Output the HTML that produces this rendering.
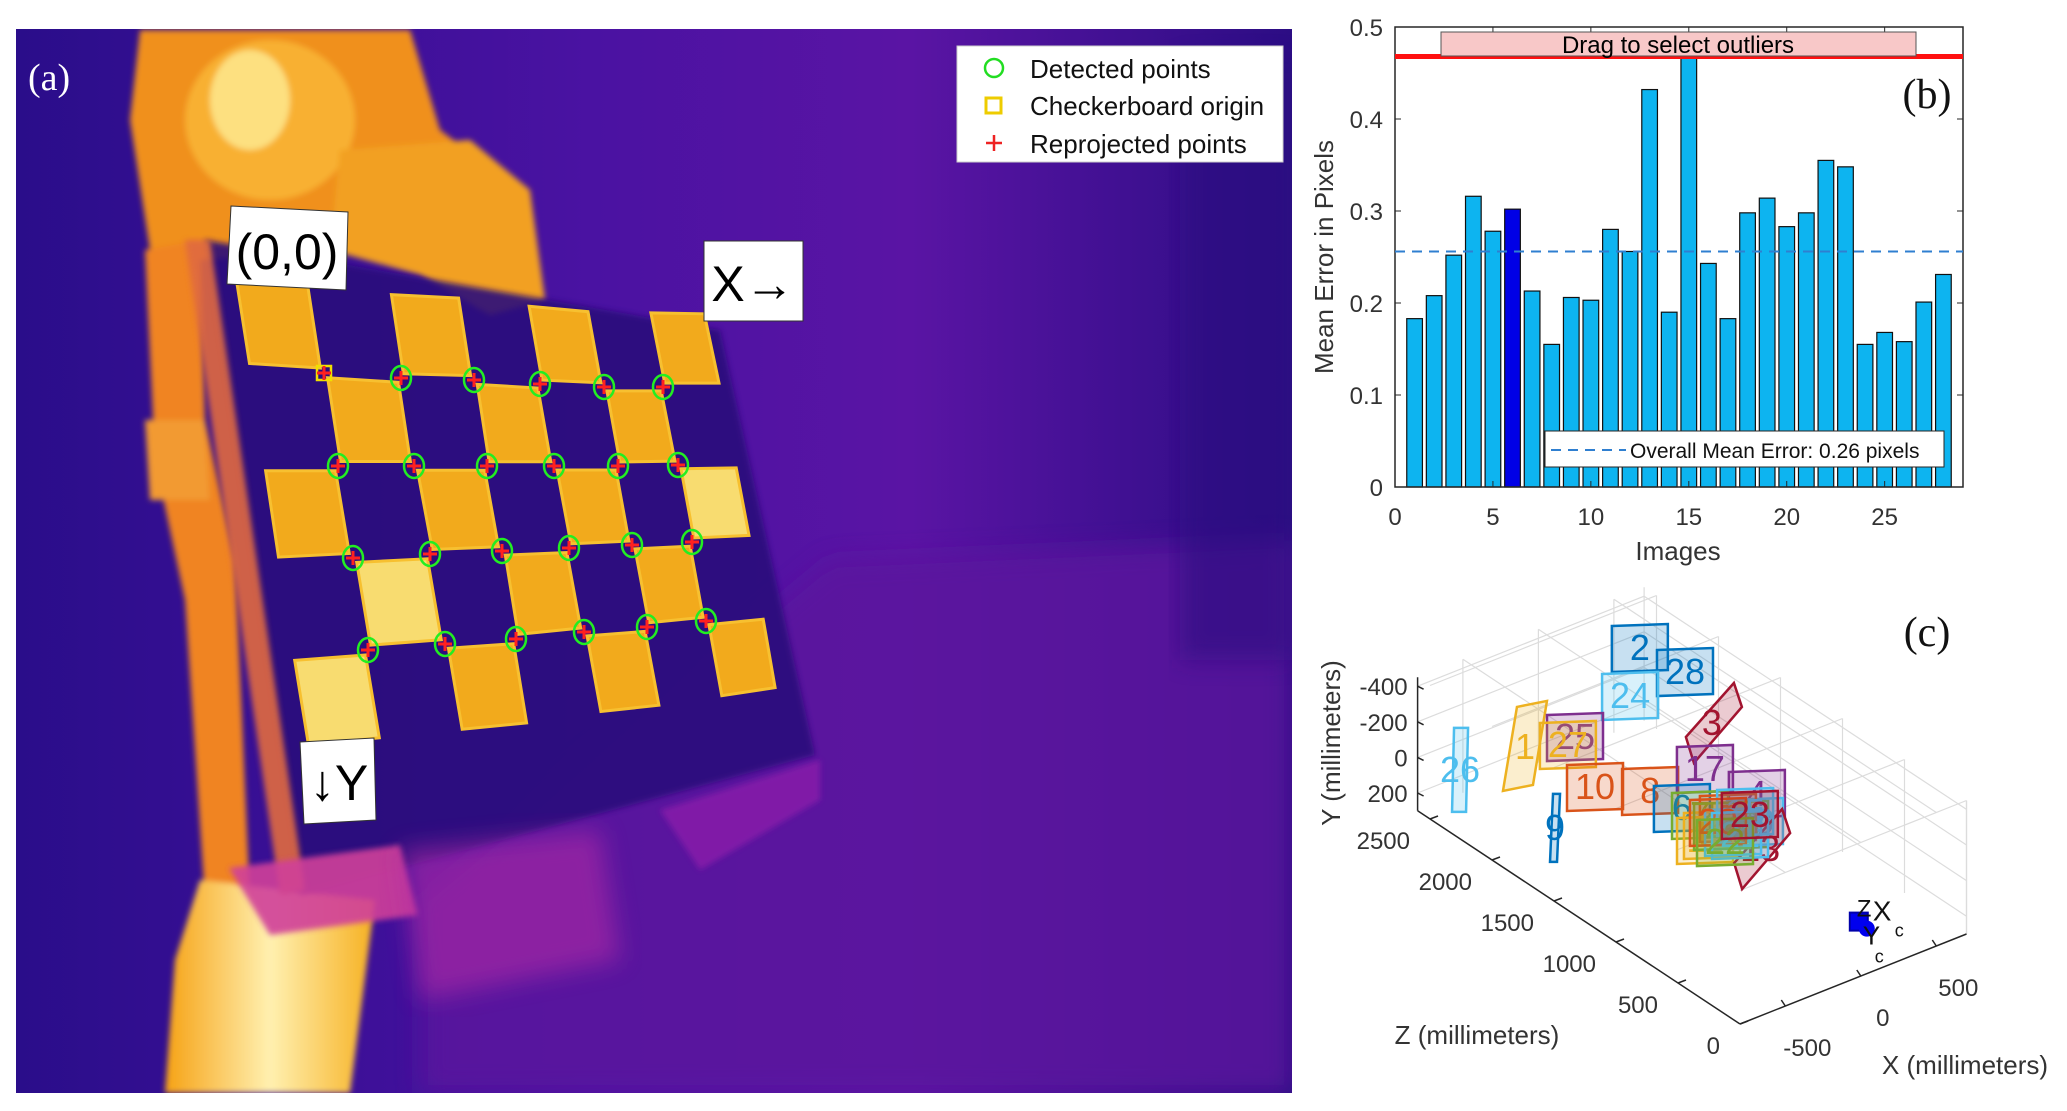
<!DOCTYPE html>
<html><head><meta charset="utf-8">
<style>
html,body{margin:0;padding:0;background:#fff;}
body{width:2067px;height:1111px;position:relative;overflow:hidden;font-family:"Liberation Sans",sans-serif;}
svg{position:absolute;left:0;top:0;}
</style></head>
<body>
<svg id="fig" width="2067" height="1111" viewBox="0 0 2067 1111" xmlns="http://www.w3.org/2000/svg">
<defs>
<linearGradient id="bgGrad" x1="0" y1="0" x2="1" y2="0">
<stop offset="0" stop-color="#2a0d8a"/><stop offset="0.45" stop-color="#4a12a2"/><stop offset="0.7" stop-color="#5a14a4"/><stop offset="1" stop-color="#2c0d84"/>
</linearGradient>
<linearGradient id="legGrad" x1="0" y1="0" x2="1" y2="0">
<stop offset="0" stop-color="#f6a214"/><stop offset="0.5" stop-color="#fff0b0"/><stop offset="1" stop-color="#f6b020"/>
</linearGradient>
<filter id="soft"><feGaussianBlur stdDeviation="3"/></filter>
<filter id="soft2"><feGaussianBlur stdDeviation="12"/></filter>
<clipPath id="photoClip"><rect x="16" y="29" width="1276" height="1064"/></clipPath>
</defs>

<g id="panelA" clip-path="url(#photoClip)">
<rect x="16" y="29" width="1276" height="1064" fill="url(#bgGrad)"/>
<polygon points="830,560 1292,540 1292,1093 420,1093 420,900" fill="#5c169e" opacity="0.8" filter="url(#soft2)"/>
<rect x="1180" y="60" width="112" height="600" fill="#2c0c80" opacity="0.6" filter="url(#soft2)"/>
<g filter="url(#soft)">
<polygon points="140,30 410,30 440,130 480,160 530,200 540,300 480,310 420,270 350,250 200,260 150,250 130,120" fill="#f0901c"/>
<ellipse cx="270" cy="120" rx="85" ry="80" fill="#f8b030"/>
<ellipse cx="250" cy="100" rx="40" ry="50" fill="#fde080"/>
<polygon points="340,150 470,140 530,190 545,300 490,315 420,275 330,250" fill="#f2a020"/>
<polygon points="145,250 200,240 205,420 235,560 250,900 205,900 185,600 155,460" fill="#f08420"/>
<polygon points="145,420 205,420 210,500 150,500" fill="#f29a30"/>
<polygon points="200,880 375,900 350,1093 165,1093 175,960" fill="url(#legGrad)"/>
</g>
<polygon points="205,240 720,330 815,755 300,895" fill="#2a0e7c" opacity="0.9" filter="url(#soft)"/>
<polygon points="185,240 210,240 305,890 280,895" fill="#e06a40" opacity="0.9" filter="url(#soft)"/>
<polygon points="229,868 400,845 418,915 270,935" fill="#d0409a" opacity="0.9" filter="url(#soft)"/>
<polygon points="400,850 600,830 620,960 420,1000" fill="#b02aa6" opacity="0.6" filter="url(#soft2)"/>
<polygon points="660,810 820,760 820,800 700,870" fill="#8a1eaa" opacity="0.8" filter="url(#soft)"/>
<g id="squares"></g>
<g id="marks"></g>
</g>
<text x="28" y="90" font-family="'Liberation Serif',serif" font-size="38" fill="#fff">(a)</text>

<g>
<polygon points="231,206 348,212 346,290 227,284" fill="#fff" stroke="#333" stroke-width="1"/>
<text x="287" y="269" font-size="50" text-anchor="middle" fill="#000">(0,0)</text>
</g>
<g>
<rect x="704" y="241" width="99" height="80" fill="#fff" stroke="#333" stroke-width="1"/>
<text x="753" y="301" font-size="50" text-anchor="middle" fill="#000">X→</text>
</g>
<g>
<polygon points="300,742 374,738 376,820 304,824" fill="#fff" stroke="#333" stroke-width="1"/>
<text x="339" y="800" font-size="50" text-anchor="middle" fill="#000">↓Y</text>
</g>

<g>
<rect x="957" y="46" width="326" height="116" fill="#fff" stroke="#ccc" stroke-width="1"/>
<circle cx="994" cy="68" r="9" fill="none" stroke="#22dd22" stroke-width="2.5"/>
<text x="1030" y="78" font-size="26" fill="#111">Detected points</text>
<rect x="986" y="98" width="15" height="15" fill="none" stroke="#eecc00" stroke-width="3"/>
<text x="1030" y="115" font-size="26" fill="#111">Checkerboard origin</text>
<path d="M986 143 h16 M994 135 v16" stroke="#ee2222" stroke-width="2.5"/>
<text x="1030" y="153" font-size="26" fill="#111">Reprojected points</text>
</g>

<g id="panelB">
<rect x="1395" y="27" width="568" height="460" fill="#fff"/>
<g id="bars"></g>
<g id="bticks"></g>
<rect x="1395" y="27" width="568" height="460" fill="none" stroke="#262626" stroke-width="1.5"/>
<line id="outlierLine" x1="1395" x2="1963" stroke="#ff1010" stroke-width="5"/>
<g>
<rect x="1441" y="32" width="475" height="24" fill="#f8c8c8" stroke="#555" stroke-width="1"/>
<text x="1678" y="53" font-size="24" text-anchor="middle" fill="#000">Drag to select outliers</text>
</g>
<line id="meanLine" x1="1395" x2="1963" stroke="#2f7fd0" stroke-width="2" stroke-dasharray="10,7"/>
<g>
<rect x="1545" y="431" width="399" height="36" fill="#fff" stroke="#262626" stroke-width="1"/>
<line x1="1551" x2="1626" y1="450" y2="450" stroke="#2f7fd0" stroke-width="2" stroke-dasharray="10,7"/>
<text x="1630" y="458" font-size="21" fill="#111">Overall Mean Error: 0.26 pixels</text>
</g>
<text x="1927" y="108" font-family="'Liberation Serif',serif" font-size="42" text-anchor="middle" fill="#111">(b)</text>
<text x="1678" y="560" font-size="26" text-anchor="middle" fill="#333">Images</text>
<text transform="translate(1333,257) rotate(-90)" font-size="26" text-anchor="middle" fill="#333">Mean Error in Pixels</text>
</g>

<g id="panelC">
<g id="grid3d"></g>
<g id="axes3d"></g>
<g id="planes"></g>
<g id="camera"></g>
<text x="1927" y="646" font-family="'Liberation Serif',serif" font-size="42" text-anchor="middle" fill="#111">(c)</text>
<text transform="translate(1340,743) rotate(-90)" font-size="26" text-anchor="middle" fill="#333">Y (millimeters)</text>
<text x="1477" y="1044" font-size="26" text-anchor="middle" fill="#333">Z (millimeters)</text>
<text x="1965" y="1074" font-size="26" text-anchor="middle" fill="#333">X (millimeters)</text>
</g>
</svg>

<script>
// ---------- Panel (b) data ----------
const imageIdx = [1,2,3,4,5,6,7,8,9,10,11,12,13,14,15,16,17,18,19,20,21,22,23,24,25,26,27,28];
const meanErrors = [0.183,0.208,0.252,0.316,0.278,0.302,0.213,0.155,0.206,0.203,0.280,0.256,0.432,0.190,0.468,0.243,0.183,0.298,0.314,0.283,0.298,0.355,0.348,0.155,0.168,0.158,0.201,0.231];
const selectedImage = 6;
const overallMean = 0.256;
const outlierThreshold = 0.468;
const xTickVals = [0,5,10,15,20,25];
const yTickVals = [0,0.1,0.2,0.3,0.4,0.5];
const yTickLabels = ["0","0.1","0.2","0.3","0.4","0.5"];

// ---------- Panel (a) data: detected corner points ----------
const cornerRowsX = [[324,401,474,540,604,663],[338,414,487,554,618,678],[353,430,502,569,632,692],[368,445,516,584,647,706]];
const cornerRowsY = [[373,378,380,384,387,387],[466,466,466,466,466,465],[558,554,551,548,545,542],[650,644,639,632,627,621]];

// ---------- Panel (c) data ----------
const planeLabels = ["2","28","24","3","1","25","27","26","10","8","17","4","9","6","7","12","18","19","5","11","13","14","15","16","20","21","22","23"];
const planeX = [414,506,185,410,-346,-77,-134,-647,-140,63,372,486,-450,144,231,155,334,414,327,95,322,253,436,261,261,271,165,437];
const planeY = [-350,-300,-250,-200,-50,-50,-30,50,100,100,50,100,200,150,200,200,200,200,200,200,250,200,200,200,200,200,200,200];
const planeZ = [2286,2034,2086,1700,2287,2211,2199,2444,1973,1776,1710,1430,1918,1618,1578,1389,1380,1358,1470,1372,1204,1427,1464,1348,1470,1304,1296,1427];
const xTicks3 = [-500,0,500];
const yTicks3 = [-400,-200,0,200];
const zTicks3 = [0,500,1000,1500,2000,2500];

const NS = "http://www.w3.org/2000/svg";
function mk(tag, attrs, parent){const e=document.createElementNS(NS,tag);for(const k in attrs)e.setAttribute(k,attrs[k]);parent.appendChild(e);return e;}

// ===== Panel (b) =====
const bx0=1395,bx1=1963,by0=487,by1=27,xmax=29,ymax=0.5;
const xs=v=>bx0+(v/xmax)*(bx1-bx0);
const ys=v=>by0-(Math.min(v,ymax)/ymax)*(by0-by1);
const barsG=document.getElementById('bars');
imageIdx.forEach((n,i)=>{
  const v=meanErrors[i];
  const r=mk('rect',{x:xs(n-0.4),y:ys(v),width:xs(0.8)-xs(0),height:by0-ys(v),fill:n===selectedImage?'#0000e6':'#0db4f0',stroke:'#111','stroke-width':1.2},barsG);
  
  
});
const tg=document.getElementById('bticks');
xTickVals.forEach(v=>{
  mk('line',{x1:xs(v),x2:xs(v),y1:by0,y2:by0-6,stroke:'#262626'},tg);
  mk('line',{x1:xs(v),x2:xs(v),y1:by1,y2:by1+6,stroke:'#262626'},tg);
  const t=mk('text',{x:xs(v),y:by0+38,'font-size':24,'text-anchor':'middle',fill:'#333'},tg);
  t.textContent=v;
  
  
});
yTickVals.forEach((v,i)=>{
  mk('line',{x1:bx0,x2:bx0+6,y1:ys(v),y2:ys(v),stroke:'#262626'},tg);
  mk('line',{x1:bx1,x2:bx1-6,y1:ys(v),y2:ys(v),stroke:'#262626'},tg);
  const t=mk('text',{x:bx0-12,y:ys(v)+9,'font-size':24,'text-anchor':'end',fill:'#333'},tg);
  t.textContent=yTickLabels[i];
  
  
});
const ml=document.getElementById('meanLine');ml.setAttribute('y1',ys(overallMean));ml.setAttribute('y2',ys(overallMean));
const ol=document.getElementById('outlierLine');ol.setAttribute('y1',ys(outlierThreshold));ol.setAttribute('y2',ys(outlierThreshold));

// ===== Panel (a) squares & markers =====
function extRow(rx,ry,r){
  if(r>=0&&r<=3) return [rx[r].slice(),ry[r].slice()];
  const a=r<0?0:3, b=r<0?1:2;
  return [rx[a].map((v,i)=>2*v-rx[b][i]), ry[a].map((v,i)=>2*v-ry[b][i])];
}
function cornerGrid(){
  const G=[];
  for(let r=-1;r<=4;r++){
    const [X,Y]=extRow(cornerRowsX,cornerRowsY,r);
    const row=[];
    row.push([2*X[0]-X[1],2*Y[0]-Y[1]]);
    for(let c=0;c<6;c++) row.push([X[c],Y[c]]);
    row.push([2*X[5]-X[4],2*Y[5]-Y[4]]);
    G.push(row);
  }
  return G;
}
const G=cornerGrid();
const sqG=document.getElementById('squares');
for(let r=0;r<5;r++){for(let c=0;c<7;c++){
  if((r+c)%2!==0)continue;
  const p=[G[r][c],G[r][c+1],G[r+1][c+1],G[r+1][c]];
  const cx=(p[0][0]+p[1][0]+p[2][0]+p[3][0])/4, cy=(p[0][1]+p[1][1]+p[2][1]+p[3][1])/4;
  const s=p.map(q=>[(cx+(q[0]-cx)*0.92).toFixed(1),(cy+(q[1]-cy)*0.9).toFixed(1)].join(',')).join(' ');
  const light=(r===3&&c===1)||(r===2&&c===6)||(r===4&&c===0);
  const sq=mk('polygon',{points:s,fill:light?'#f8dc70':'#f2aa1c',stroke:'#f7c030','stroke-width':3},sqG);
  
  
}}
const mG=document.getElementById('marks');
cornerRowsX.forEach((row,r)=>row.forEach((x,c)=>{
  const y=cornerRowsY[r][c];
  if(r===0&&c===0){
    const o=mk('rect',{x:x-7,y:y-7,width:14,height:14,fill:'none',stroke:'#f0e000','stroke-width':2.5},mG);
    
    
  } else {
    const c1=mk('ellipse',{cx:x,cy:y,rx:10,ry:12,fill:'none',stroke:'#22ee22','stroke-width':2.5},mG);
    
    
  }
  const p=mk('path',{d:`M${x-7} ${y} h14 M${x} ${y-7} v14`,stroke:'#ff2020','stroke-width':3},mG);
  
  
}));

// ===== Panel (c) 3D =====
const XMIN=-800,XMAX=700,YMIN=-450,YMAX=300,ZMAX=2600;
const O=[1740,1024];
function P(X,Y,Z){return [O[0]+0.151*(X-XMIN)-0.124*Z, O[1]-0.060*(X-XMIN)-0.082*Z+0.178*(Y-YMAX)];}
const g3=document.getElementById('grid3d');
function ln(a,b,col,w,parent){return mk('line',{x1:a[0],y1:a[1],x2:b[0],y2:b[1],stroke:col,'stroke-width':w},parent);}
const gc='#dcdcdc';
xTicks3.forEach(x=>{ln(P(x,YMIN,ZMAX),P(x,YMAX,ZMAX),gc,1.2,g3);ln(P(x,YMIN,0),P(x,YMIN,ZMAX),gc,1.2,g3);});
zTicks3.forEach(z=>{ln(P(XMAX,YMIN,z),P(XMAX,YMAX,z),gc,1.2,g3);ln(P(XMIN,YMIN,z),P(XMAX,YMIN,z),gc,1.2,g3);});
yTicks3.forEach(y=>{ln(P(XMIN,y,ZMAX),P(XMAX,y,ZMAX),gc,1.2,g3);ln(P(XMAX,y,0),P(XMAX,y,ZMAX),gc,1.2,g3);});
ln(P(XMAX,YMIN,ZMAX),P(XMAX,YMAX,ZMAX),gc,1.2,g3);ln(P(XMAX,YMIN,0),P(XMAX,YMAX,0),gc,1.2,g3);
const a3=document.getElementById('axes3d');
ln(P(XMIN,YMAX,0),P(XMIN,YMAX,ZMAX),'#262626',1.5,a3);
ln(P(XMIN,YMAX,0),P(XMAX,YMAX,0),'#262626',1.5,a3);
ln(P(XMIN,YMIN,ZMAX),P(XMIN,YMAX,ZMAX),'#262626',1.5,a3);
zTicks3.forEach(z=>{const p=P(XMIN,YMAX,z);ln(p,[p[0]+8,p[1]-3],'#262626',1.5,a3);
  const t=mk('text',{x:p[0]-20,y:p[1]+30,'font-size':24,'text-anchor':'end',fill:'#333'},a3);t.textContent=z;
  });
xTicks3.forEach(x=>{const p=P(x,YMAX,0);ln(p,[p[0]-4,p[1]-6],'#262626',1.5,a3);
  const t=mk('text',{x:p[0]+22,y:p[1]+50,'font-size':24,'text-anchor':'middle',fill:'#333'},a3);t.textContent=x;
  });
yTicks3.forEach(y=>{const p=P(XMIN,y,ZMAX);ln(p,[p[0]+6,p[1]+3],'#262626',1.5,a3);
  const t=mk('text',{x:p[0]-10,y:p[1]+9,'font-size':24,'text-anchor':'end',fill:'#333'},a3);t.textContent=y;
  });

const planeColorMap={"2":"#0072BD","28":"#0072BD","24":"#4DBEEE","3":"#A2142F","1":"#EDB120","25":"#7E2F8E","27":"#EDB120","26":"#4DBEEE","10":"#D95319","8":"#D95319","17":"#7E2F8E","4":"#7E2F8E","9":"#0072BD","6":"#0072BD","7":"#77AC30","12":"#EDB120","18":"#77AC30","19":"#4DBEEE","5":"#D95319","11":"#EDB120","13":"#A2142F","14":"#77AC30","15":"#4DBEEE","16":"#4DBEEE","20":"#D95319","21":"#4DBEEE","22":"#77AC30","23":"#A2142F"};
const shapeMap={"1":[[-8,-40],[22,-46],[8,38],[-22,44]],"26":[[-6,-42],[8,-42],[6,42],[-8,42]],"9":[[-2,-34],[5,-34],[2,34],[-5,34]],"3":[[-26,14],[22,-40],[30,-16],[-18,40]],"13":[[-26,14],[22,-40],[30,-16],[-18,40]]};
const defShape=[[-28,-22],[28,-24],[28,22],[-28,24]];
const pg=document.getElementById('planes');
planeLabels.forEach((lab,i)=>{
  const c=P(planeX[i],planeY[i],planeZ[i]);
  const col=planeColorMap[lab]||'#0072BD';
  const sh=shapeMap[lab]||defShape;
  const g=mk('g',{},pg);
  
  
  mk('polygon',{points:sh.map(q=>(c[0]+q[0])+','+(c[1]+q[1])).join(' '),fill:col,'fill-opacity':0.22,stroke:col,'stroke-width':2.5},g);
  const t=mk('text',{x:c[0],y:c[1]+12,'font-size':36,'text-anchor':'middle',fill:col},g);
  t.textContent=lab;
});
const cam=P(0,0,0);
const cg=document.getElementById('camera');


mk('rect',{x:cam[0]-11,y:cam[1]-10,width:18,height:18,fill:'#0000ee',stroke:'#0000aa','stroke-width':2},cg);
mk('circle',{cx:cam[0]+6,cy:cam[1]+6,r:8,fill:'#0000ee'},cg);
const tz=mk('text',{x:cam[0]-4,y:cam[1]-6,'font-size':24,fill:'#111'},cg);tz.textContent='Z';
const tx=mk('text',{x:cam[0]+12,y:cam[1]-2,'font-size':28,fill:'#111'},cg);tx.textContent='X';
const txc=mk('text',{x:cam[0]+34,y:cam[1]+14,'font-size':18,fill:'#111'},cg);txc.textContent='c';
const ty=mk('text',{x:cam[0]+2,y:cam[1]+22,'font-size':26,fill:'#111'},cg);ty.textContent='Y';
const tyc=mk('text',{x:cam[0]+14,y:cam[1]+40,'font-size':18,fill:'#111'},cg);tyc.textContent='c';
</script>
</body></html>
